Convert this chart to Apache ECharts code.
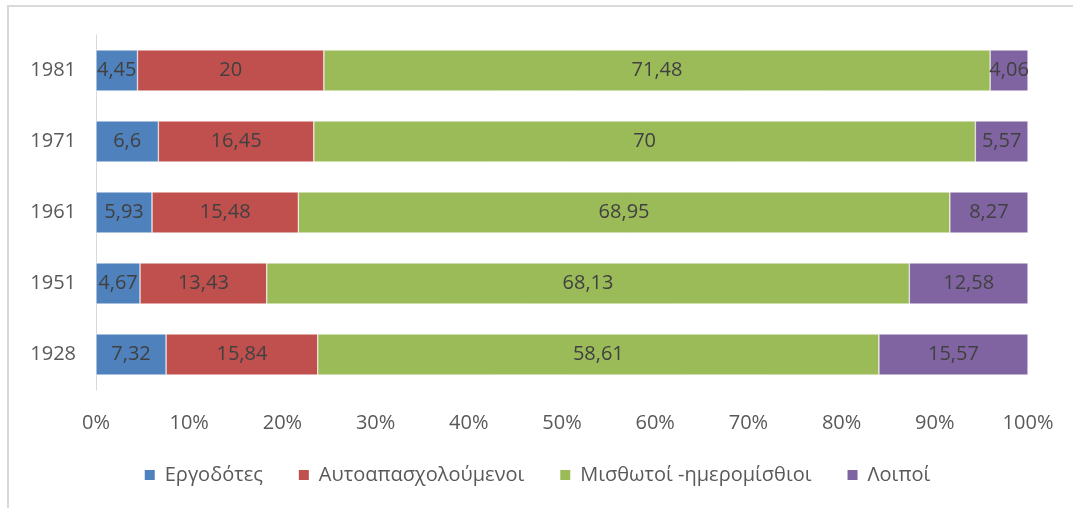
<!DOCTYPE html>
<html>
<head>
<meta charset="utf-8">
<script src="https://cdn.jsdelivr.net/npm/echarts@6/dist/echarts.min.js"></script>
<style>
  html, body { margin: 0; padding: 0; background: #fff; }
  #frame {
    position: absolute; left: 7px; top: 5px; width: 1200px; height: 600px;
    border: 2px solid #d9d9d9; box-sizing: border-box;
  }
  #chart { position: absolute; left: 0; top: 0; width: 1073px; height: 508px; }
</style>
</head>
<body>
<div id="frame"></div>
<div id="chart"></div>
<script>
// years, bottom to top as drawn
const years = ['1928', '1951', '1961', '1971', '1981'];
const seriesNames = ['Εργοδότες', 'Αυτοαπασχολούμενοι', 'Μισθωτοί -ημερομίσθιοι', 'Λοιποί'];
const employers = [7.32, 4.67, 5.93, 6.6, 4.45];
const selfEmployed = [15.84, 13.43, 15.48, 16.45, 20];
const salaried = [58.61, 68.13, 68.95, 70, 71.48];
const others = [15.57, 12.58, 8.27, 5.57, 4.06];
const colors = ['#4f81bd', '#c0504d', '#9bbb59', '#8064a2'];

const raw = [employers, selfEmployed, salaried, others];
// 100% stacked: share of each year's total
const totals = years.map((_, i) => raw.reduce((s, arr) => s + arr[i], 0));

const fontFamily = '"Open Sans", "DejaVu Sans", sans-serif';
const myChart = echarts.init(document.getElementById('chart'));

const option = {
  animation: false,
  color: colors,
  grid: { left: 96, right: 45, top: 35, bottom: 118 },
  legend: {
    bottom: 18,
    left: 'center',
    icon: 'rect',
    itemWidth: 12,
    itemHeight: 12,
    itemGap: 34,
    textStyle: { color: '#595959', fontSize: 20, fontFamily: fontFamily, padding: [0, 0, 0, 4] },
    data: seriesNames
  },
  xAxis: {
    type: 'value',
    min: 0,
    max: 100,
    interval: 10,
    axisLine: { show: false },
    axisTick: { show: false },
    splitLine: { show: false },
    axisLabel: {
      formatter: '{value}%',
      color: '#595959',
      fontSize: 20,
      fontFamily: fontFamily,
      margin: 23
    }
  },
  yAxis: {
    type: 'category',
    data: years,
    axisLine: { show: true, lineStyle: { color: '#d9d9d9', width: 1 } },
    axisTick: { show: false },
    axisLabel: { color: '#595959', fontSize: 20, fontFamily: fontFamily, margin: 20 }
  },
  series: raw.map((arr, k) => ({
    name: seriesNames[k],
    type: 'bar',
    stack: 'total',
    barWidth: '58%',
    itemStyle: { borderColor: '#ffffff', borderWidth: 0.5 },
    label: {
      show: true,
      position: 'inside',
      color: '#404040',
      fontSize: 20,
      fontFamily: fontFamily,
      formatter: p => String(arr[p.dataIndex]).replace('.', ',')
    },
    data: arr.map((v, i) => v / totals[i] * 100)
  }))
};

myChart.setOption(option);
</script>
</body>
</html>
